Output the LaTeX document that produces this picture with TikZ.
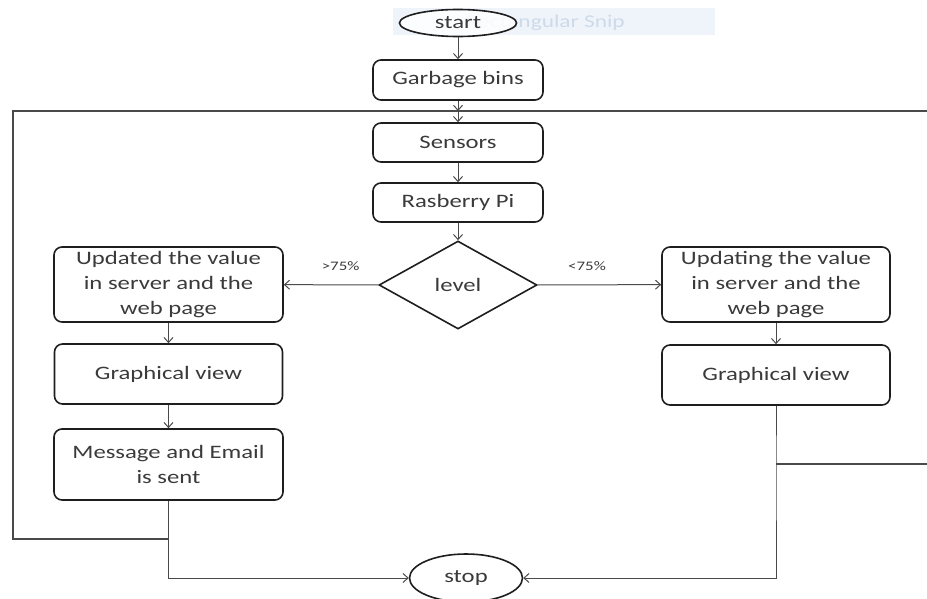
\documentclass[tikz,border=0pt]{standalone}
\usepackage{fontspec}
\setmainfont{Carlito}[FakeStretch=1.3]
\usetikzlibrary{shapes.geometric,arrows.meta}
\definecolor{txt}{HTML}{3A3A3A}
\definecolor{bord}{HTML}{1E1E1E}
\definecolor{conn}{HTML}{4A4A4A}
\definecolor{snipbg}{HTML}{EFF4FB}
\definecolor{sniptx}{HTML}{CCDAEA}
\tikzset{
  box/.style={draw=bord, line width=1.6pt, rounded corners=8pt, align=center,
    text=txt, font=\fontsize{19}{25}\selectfont, inner sep=2pt},
  term/.style={draw=bord, line width=1.6pt, ellipse, text=txt,
    font=\fontsize{19}{25}\selectfont, inner sep=0pt},
  decision/.style={draw=bord, line width=1.6pt, diamond, text=txt,
    font=\fontsize{19}{25}\selectfont, inner sep=0pt},
  conn/.style={draw=conn, line width=1pt, -{Straight Barb[length=5pt,width=9pt]}},
  loopline/.style={draw=conn, line width=1.3pt},
  lbl/.style={text=txt, font=\fontsize{13}{15}\selectfont, inner sep=0pt}
}
\begin{document}
\begin{tikzpicture}[x=1pt,y=-1pt]
\useasboundingbox (0,0) rectangle (927,599);
% snipping tool remnant
\fill[snipbg] (393,8) rectangle (715,35);
\node[text=sniptx, font=\fontsize{18}{20}\selectfont, anchor=east, inner sep=0pt] (snip) at (625,23) {Rectangular Snip};
% nodes
\node[term, fill=white, fill opacity=0.85, text opacity=1, minimum width=117pt, minimum height=27pt] (start) at (458,23) {start};
\node[box, minimum width=170pt, minimum height=40pt] (garb) at (458,80) {Garbage bins};
\node[box, minimum width=170pt, minimum height=39pt] (sens) at (458,142.5) {Sensors};
\node[box, minimum width=170pt, minimum height=39pt] (rasp) at (458,202.5) {Rasberry Pi};
\node[decision, minimum width=158pt, minimum height=88pt] (level) at (458,285) {level};
\node[box, minimum width=229pt, minimum height=75pt] (updl) at (168.5,284.5) {Updated the value\\in server and the\\web page};
\node[box, minimum width=228pt, minimum height=75pt] (updr) at (776,284.5) {Updating the value\\in server and the\\web page};
\node[box, minimum width=228pt, minimum height=60pt] (gvl) at (168.5,374) {Graphical view};
\node[box, minimum width=228pt, minimum height=60pt] (gvr) at (776,375) {Graphical view};
\node[box, minimum width=229pt, minimum height=71pt] (msg) at (168.5,464.5) {Message and Email\\is sent};
\node[term, minimum width=113pt, minimum height=48pt] (stop) at (466,578) {stop};
% coordinates
\coordinate (cross) at (458,111);
\coordinate (topR) at (927,111);
\coordinate (topL) at (13,111);
\coordinate (botL) at (13,539);
\coordinate (msgJ) at (168.5,539);
\coordinate (msgB) at (168.5,578);
\coordinate (gvrJ) at (776,464);
\coordinate (rightR) at (927,464);
\coordinate (gvrB) at (776,578);
% connectors
\draw[conn] (start) -- (garb);
\draw[conn] (garb) -- (cross);
\draw[loopline] (topR) -- (topL) -- (botL) -- (msgJ);
\draw[conn] (cross) -- (sens);
\draw[conn] (sens) -- (rasp);
\draw[conn] (rasp) -- (level);
\draw[conn] (level) -- node[lbl, above=14pt, pos=0.4] (gt) {>75\%} (updl);
\draw[conn] (level) -- node[lbl, above=14pt, pos=0.4] (lt) {<75\%} (updr);
\draw[conn] (updl) -- (gvl);
\draw[conn] (gvl) -- (msg);
\draw[conn] (updr) -- (gvr);
\draw[conn] (msg.south) -- (msgJ) -- (msgB) -- (stop.west);
\draw[conn] (gvr.south) -- (gvrJ) -- (gvrB) -- (stop.east);
\draw[loopline] (gvrJ) -- (rightR);
\end{tikzpicture}
\end{document}
